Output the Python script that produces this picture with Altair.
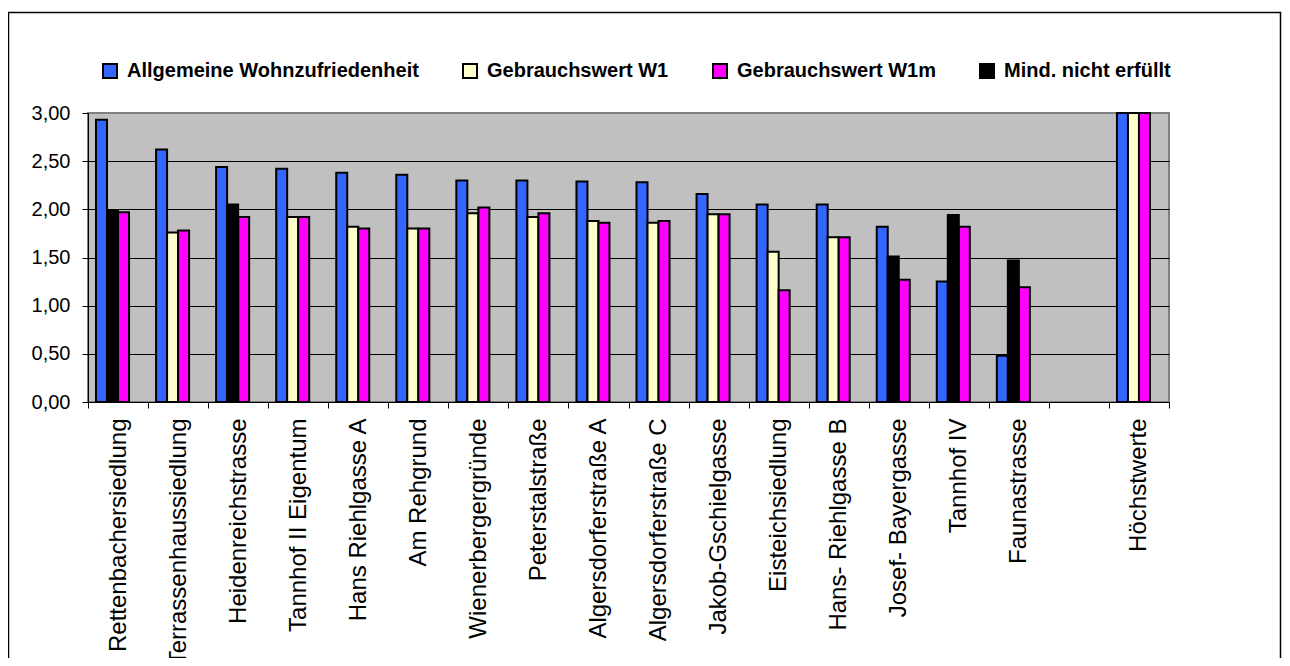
import altair as alt
import pandas as pd

categories = ["Rettenbachersiedlung", "Terrassenhaussiedlung", "Heidenreichstrasse",
              "Tannhof II Eigentum", "Hans Riehlgasse A", "Am Rehgrund",
              "Wienerbergergründe", "Peterstalstraße", "Algersdorferstraße A",
              "Algersdorferstraße C", "Jakob-Gschielgasse", "Eisteichsiedlung",
              "Hans- Riehlgasse B", "Josef- Bayergasse", "Tannhof IV", "Faunastrasse",
              " ", "Höchstwerte"]

allgemeine = [2.93, 2.62, 2.44, 2.42, 2.38, 2.36, 2.30, 2.30, 2.29, 2.28, 2.16, 2.05,
              2.05, 1.82, 1.25, 0.48, None, 3.00]
w1 = [None, 1.76, None, 1.92, 1.82, 1.80, 1.96, 1.92, 1.88, 1.86, 1.95, 1.56,
      1.71, None, None, None, None, 3.00]
w1m = [1.97, 1.78, 1.92, 1.92, 1.80, 1.80, 2.02, 1.96, 1.86, 1.88, 1.95, 1.16,
       1.71, 1.27, 1.82, 1.19, None, 3.00]
mind = [1.99, None, 2.05, None, None, None, None, None, None, None, None, None,
        None, 1.51, 1.94, 1.47, None, None]

series_names = ["Allgemeine Wohnzufriedenheit", "Gebrauchswert W1",
                "Gebrauchswert W1m", "Mind. nicht erfüllt"]
series_colors = ["#3366FF", "#FFFFCC", "#FF00FF", "#000000"]
series_values = [allgemeine, w1, w1m, mind]
series_slots = [0, 1, 2, 1]

rows = []
for name, vals, slot in zip(series_names, series_values, series_slots):
    for cat, v in zip(categories, vals):
        if v is not None:
            rows.append({"Siedlung": cat, "series": name, "value": v, "slot": slot})
df = pd.DataFrame(rows)

FONT = "Liberation Sans"

bars = alt.Chart(df).mark_bar(stroke="black", strokeWidth=2).encode(
    x=alt.X("Siedlung:N", sort=categories,
            scale=alt.Scale(domain=categories, paddingInner=0, paddingOuter=0),
            axis=alt.Axis(title=None, labelAngle=270, labelFontSize=24, labelFont=FONT,
                          labelColor="black", tickBand="extent", tickSize=6,
                          tickColor="black", domainColor="black", labelPadding=10,
                          labelLimit=0)),
    xOffset=alt.XOffset("slot:O", scale=alt.Scale(domain=[0, 1, 2, 3],
                                                   paddingInner=0, paddingOuter=0.727)),
    y=alt.Y("value:Q", scale=alt.Scale(domain=[0, 3]),
            axis=alt.Axis(title=None, values=[0, 0.5, 1, 1.5, 2, 2.5, 3],
                          labelExpr="replace(format(datum.value, '.2f'), '.', ',')",
                          grid=True,
                          gridColor={"condition": {"test": "datum.value === 3",
                                                   "value": "#808080"},
                                     "value": "black"},
                          gridWidth=1,
                          tickSize=6, tickColor="black", domainColor="black",
                          labelFontSize=20, labelFont=FONT, labelColor="black",
                          labelPadding=12)),
    color=alt.Color("series:N", scale=alt.Scale(domain=series_names, range=series_colors),
                    legend=alt.Legend(title=None, orient="none", legendX=12, legendY=-52,
                                      direction="horizontal", columns=4,
                                      symbolType="square", symbolSize=196,
                                      symbolStrokeColor="black", symbolStrokeWidth=2,
                                      labelFontSize=20, labelFontWeight="bold",
                                      labelFont=FONT, labelColor="black",
                                      columnPadding=40, labelOffset=7, labelLimit=0)),
)

border = alt.Chart(pd.DataFrame({"a": [0]})).mark_rect(
    fillOpacity=0, stroke="black", strokeWidth=1.5
).encode(x=alt.value(-79.5), x2=alt.value(1192.5), y=alt.value(-100.5), y2=alt.value(700))

chart = alt.layer(border, bars).properties(
    width=1081, height=289,
    padding={"left": 80, "top": 105, "right": 113, "bottom": 256},
    autosize=alt.AutoSizeParams(type="none"),
).configure(font=FONT, background="white").configure_view(
    fill="#C0C0C0", stroke="#808080", strokeWidth=2)

chart.save("out.html", embed_options={"renderer": "svg", "actions": False})
